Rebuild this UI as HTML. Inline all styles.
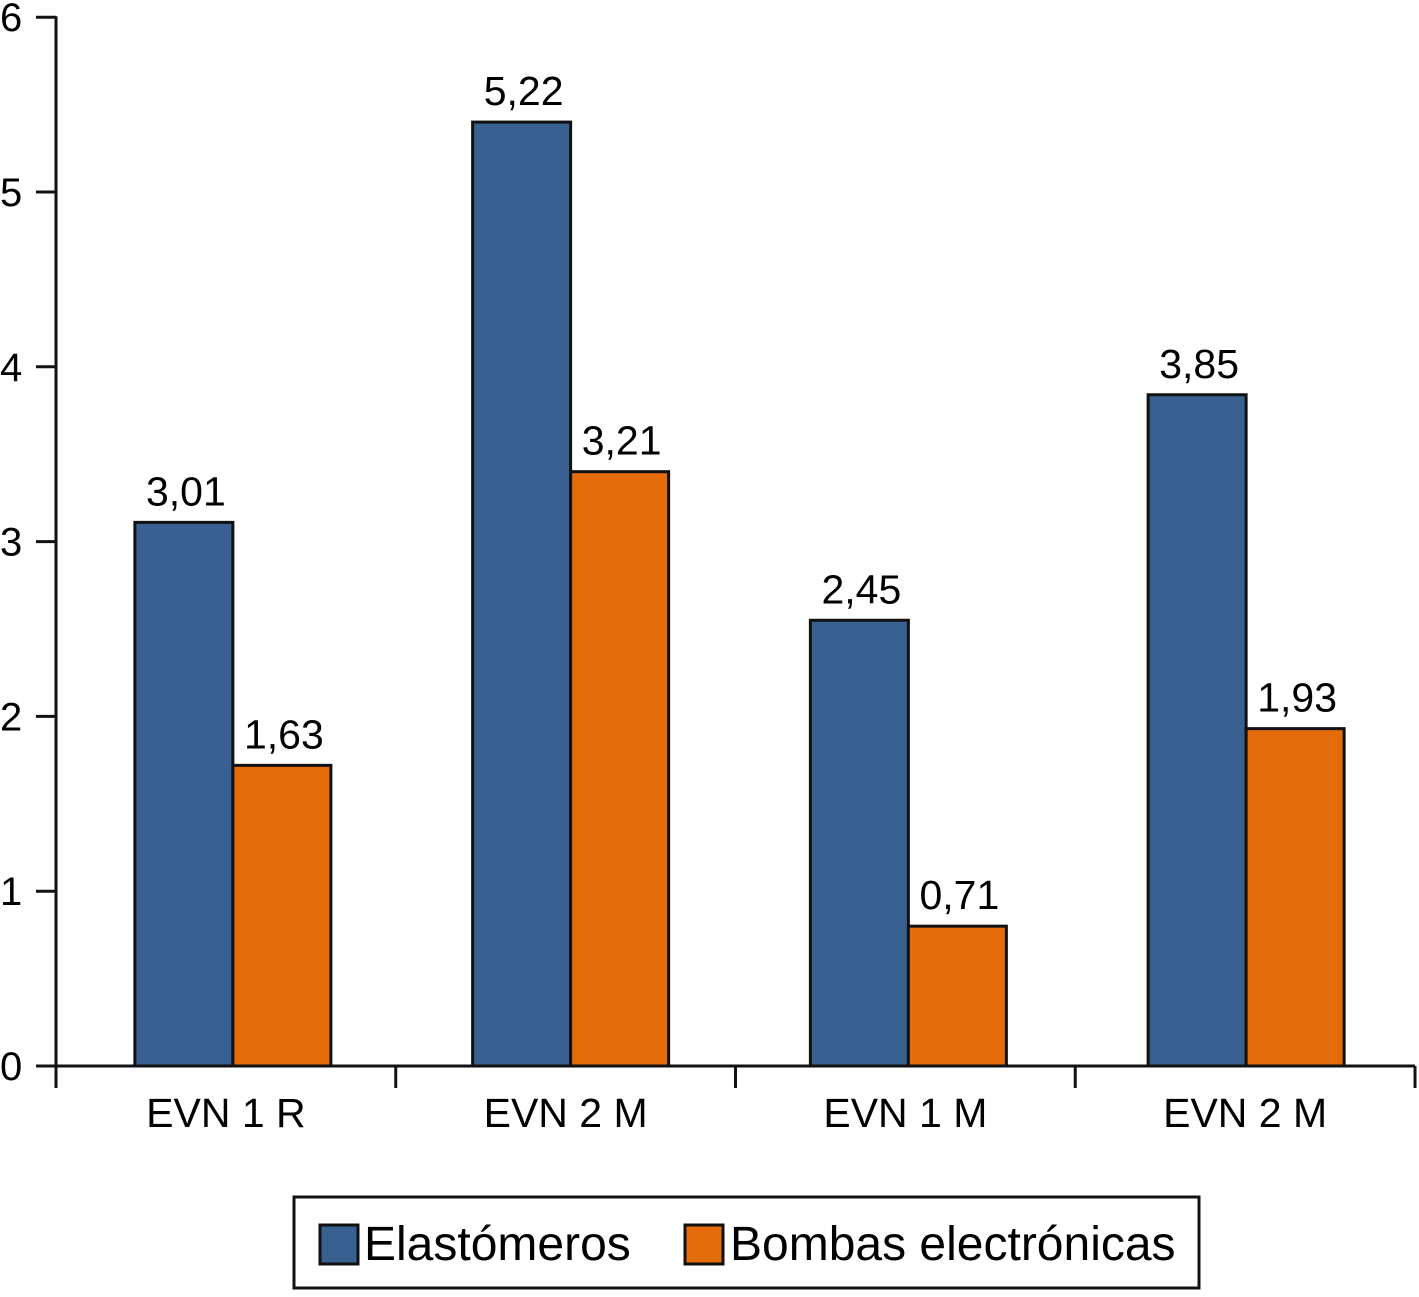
<!DOCTYPE html>
<html><head><meta charset="utf-8"><style>
body{margin:0;background:#fff}
svg text{font-family:"Liberation Sans",Arial,sans-serif;fill:#000}
</style></head><body>
<svg width="1419" height="1292">
<g id="axes"></g><g id="bars"></g>
<g>
<rect x="294" y="1197" width="905" height="91" fill="none" stroke="#111" stroke-width="3"/>
<rect x="320" y="1225" width="38" height="39" fill="#386191" stroke="#111" stroke-width="3"/>
<text x="364" y="1260" font-size="48">Elastómeros</text>
<rect x="685" y="1225" width="38" height="39" fill="#e46c0a" stroke="#111" stroke-width="3"/>
<text x="730" y="1260" font-size="48">Bombas electrónicas</text>
</g>
</svg>
<script>
const categories=["EVN 1 R","EVN 2 M","EVN 1 M","EVN 2 M"];
const elastomeros=[3.11,5.40,2.55,3.84];
const bombas=[1.72,3.40,0.80,1.93];
const elastomerosLabels=["3,01","5,22","2,45","3,85"];
const bombasLabels=["1,63","3,21","0,71","1,93"];
const yTicks=[0,1,2,3,4,5,6];
const NS="http://www.w3.org/2000/svg";
const x0=56,x1=1415,y0=1066,unit=174.8;
const yS=v=>y0-v*unit;
const gw=(x1-x0)/categories.length;
function mk(p,tag,attrs){const e=document.createElementNS(NS,tag);for(const k in attrs)e.setAttribute(k,attrs[k]);p.appendChild(e);return e;}
const ax=document.getElementById('axes'),bg=document.getElementById('bars');
let l=mk(ax,'line',{x1:x0,y1:yS(6)-1,x2:x0,y2:1088,stroke:'#111','stroke-width':3});


yTicks.forEach(t=>{
 const tl=mk(ax,'line',{x1:36,y1:yS(t),x2:x0,y2:yS(t),stroke:'#111','stroke-width':3});
 
 
 const tx=mk(ax,'text',{x:0,y:yS(t)+14,'font-size':40});
 tx.textContent=t;
 
 
});
for(let i=0;i<=categories.length;i++){
 const xt=x0+i*gw;
 const tl=mk(ax,'line',{x1:xt,y1:y0,x2:xt,y2:1088,stroke:'#111','stroke-width':3});
 
 
}
categories.forEach((c,i)=>{
 const cx=x0+gw*i+gw/2;
 const bw=98;
 const off=7-i*2;
 [[elastomeros,elastomerosLabels,'#386191',cx-bw+off,'elastomeros'],[bombas,bombasLabels,'#e46c0a',cx+off,'bombas']].forEach(([vals,labs,col,bx,nm])=>{
  const r=mk(bg,'rect',{x:bx,y:yS(vals[i]),width:bw,height:y0-yS(vals[i]),fill:col,stroke:'#111','stroke-width':3});
  
  
  const t=mk(bg,'text',{x:bx+bw/2+2,y:yS(vals[i])-17,'font-size':41,'text-anchor':'middle'});
  t.textContent=labs[i];
  
  
 });
 const ct=mk(ax,'text',{x:cx,y:1127,'font-size':41,'text-anchor':'middle'});
 ct.textContent=c;
 
 
});
const xl=mk(ax,'line',{x1:x0-20,y1:y0,x2:x1,y2:y0,stroke:'#111','stroke-width':3});


</script>
</body></html>
